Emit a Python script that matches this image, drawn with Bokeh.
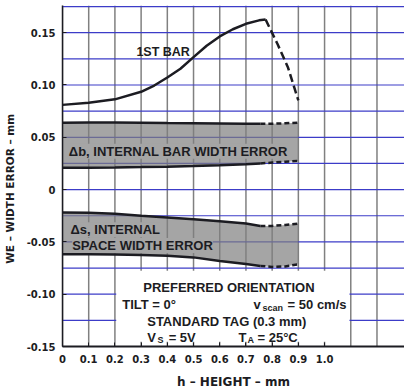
import numpy as np
from bokeh.plotting import figure
from bokeh.models import Range1d, FixedTicker, Label, BoxAnnotation, Span
from bokeh.embed import file_html
from bokeh.resources import INLINE

# ---------------- data ----------------
# "1ST BAR" curve: height (mm) vs width error (mm)
bar_h = [0.0, 0.1, 0.2, 0.3, 0.35, 0.4, 0.45, 0.5, 0.55, 0.6, 0.65, 0.7, 0.75, 0.775, 0.82, 0.86, 0.9]
bar_err = [0.081, 0.083, 0.0863, 0.0935, 0.0995, 0.1072, 0.1155, 0.1266, 0.1375, 0.1464, 0.1533,
           0.1585, 0.1618, 0.1626, 0.1394, 0.117, 0.0852]
bar_dash_from = 0.775

# internal bar width error band (delta b) and internal space width error band (delta s)
band_h = [0.0, 0.1, 0.2, 0.3, 0.4, 0.5, 0.6, 0.7, 0.755, 0.8, 0.85, 0.9]
db_upper = [0.064, 0.0642, 0.0641, 0.0639, 0.0636, 0.0634, 0.0632, 0.063, 0.063, 0.063, 0.0634, 0.064]
db_lower = [0.021, 0.021, 0.0212, 0.0215, 0.0219, 0.0225, 0.0233, 0.0243, 0.025, 0.0258, 0.0266, 0.0274]
ds_upper = [-0.022, -0.0222, -0.0232, -0.0251, -0.0267, -0.0283, -0.0303, -0.0325, -0.0347, -0.0347, -0.0338, -0.0325]
ds_lower = [-0.0618, -0.0619, -0.0621, -0.0625, -0.0632, -0.0648, -0.0682, -0.0712, -0.073, -0.0739, -0.0735, -0.0713]
band_dash_from = 0.755

# axes
x_ticks = [0, 0.1, 0.2, 0.3, 0.4, 0.5, 0.6, 0.7, 0.8, 0.9, 1.0]
x_tick_labels = ["0", "0.1", "0.2", "0.3", "0.4", "0.5", "0.6", "0.7", "0.8", "0.9", "1.0"]
x_extra_grid = [1.1, 1.2]
y_ticks = [-0.15, -0.1, -0.05, 0, 0.05, 0.1, 0.15]
y_tick_labels = ["-0.15", "-0.10", "-0.05", "0", "0.05", "0.10", "0.15"]
y_minor_grid = [-0.125, -0.075, -0.025, 0.025, 0.075, 0.125, 0.175]
x_title = "h \u2013 HEIGHT \u2013 mm"
y_title = "WE \u2013 WIDTH ERROR \u2013 mm" + "\u00a0" * 7

# ---------------- style ----------------
INK = "#1c1c22"
VGRID = "gray"
HGRID = "#3c3cc8"
BAND_FILL = "#7f7f7f"
TICK_FONT = "DejaVu Sans"
ANN_FONT = "Liberation Sans"
X0, X1 = 0.0, 1.305
Y0, Y1 = -0.15, 0.176

p = figure(width=404, height=392,
           x_range=Range1d(X0, X1), y_range=Range1d(Y0, Y1),
           output_backend="svg", toolbar_location=None,
           min_border_left=62, min_border_right=0, min_border_top=5, min_border_bottom=46)
p.outline_line_color = None
p.background_fill_color = "white"
p.border_fill_color = "white"
p.xgrid.visible = False
p.ygrid.visible = False

xt = FixedTicker(ticks=x_ticks, minor_ticks=x_extra_grid)
yt = FixedTicker(ticks=y_ticks, minor_ticks=y_minor_grid)
p.xaxis.ticker = xt
p.yaxis.ticker = yt
p.xaxis.major_label_overrides = {v: s for v, s in zip(x_ticks, x_tick_labels)}
p.yaxis.major_label_overrides = {v: s for v, s in zip(y_ticks, y_tick_labels)}

for ax in (p.xaxis, p.yaxis):
    ax.axis_line_color = INK
    ax.major_tick_line_color = INK
    ax.major_tick_in = 4
    ax.major_tick_out = 0
    ax.minor_tick_in = 0
    ax.minor_tick_out = 0
    ax.major_label_text_font = TICK_FONT
    ax.major_label_text_font_style = "bold"
    ax.major_label_text_font_size = "10px"
    ax.major_label_text_color = INK
    ax.axis_label_text_font = TICK_FONT
    ax.axis_label_text_font_style = "bold"
    ax.axis_label_text_color = INK

p.xaxis.axis_line_width = 2
p.yaxis.axis_line_width = 1.5
p.xaxis.major_label_standoff = 8
p.yaxis.major_label_standoff = 7
p.xaxis.axis_label = x_title
p.yaxis.axis_label = y_title
p.xaxis.axis_label_text_font_size = "12px"
p.yaxis.axis_label_text_font_size = "10.5px"
p.xaxis.axis_label_standoff = 9
p.yaxis.axis_label_standoff = 8

# ---------------- grid lines (underlay spans) ----------------
for v in x_ticks + x_extra_grid:
    p.add_layout(Span(location=v, dimension="height", line_color=VGRID, line_width=1.5, level="underlay"))
for v in y_ticks + y_minor_grid:
    p.add_layout(Span(location=v, dimension="width", line_color=HGRID, line_width=1.2, level="underlay"))

# ---------------- bands ----------------
bh = np.array(band_h)
solid = bh <= band_dash_from + 1e-9
dashed = bh >= band_dash_from - 1e-9

for up, lo in ((db_upper, db_lower), (ds_upper, ds_lower)):
    up = np.array(up)
    lo = np.array(lo)
    p.varea(x=bh, y1=lo, y2=up, fill_color=BAND_FILL, fill_alpha=0.7)
    for edge in (up, lo):
        p.line(bh[solid], edge[solid], line_color=INK, line_width=2.5)
        p.line(bh[dashed], edge[dashed], line_color=INK, line_width=2.5, line_dash="5 3")

# ---------------- 1st bar curve ----------------
ch = np.array(bar_h)
ce = np.array(bar_err)
cs = ch <= bar_dash_from + 1e-9
cd = ch >= bar_dash_from - 1e-9
p.line(ch[cs], ce[cs], line_color=INK, line_width=2.5)
p.line(ch[cd], ce[cd], line_color=INK, line_width=2.5, line_dash="8 4")

# white area behind the conditions text
p.add_layout(BoxAnnotation(left=0.205, right=1.095, bottom=-0.1455, top=-0.0775,
                           fill_color="white", fill_alpha=1.0, line_color=None))


def lab(x, y, text, size="13px", align="left", bg=None, font=ANN_FONT):
    kw = {}
    if bg is not None:
        kw = dict(background_fill_color=bg, background_fill_alpha=1.0)
    p.add_layout(Label(x=x, y=y, text=text, text_font=font, text_font_style="bold",
                       text_font_size=size, text_color=INK, text_align=align,
                       text_baseline="alphabetic", **kw))


BAND_TXT_BG = "#a5a5a5"
lab(0.282, 0.1314, "1ST BAR", size="12.5px")
lab(0.024, 0.0367, "\u0394b, INTERNAL BAR WIDTH ERROR", bg=BAND_TXT_BG)
lab(0.0305, -0.0384, "\u0394s, INTERNAL", bg=BAND_TXT_BG)
lab(0.037, -0.0534, "SPACE WIDTH ERROR", bg=BAND_TXT_BG)

lab(0.635, -0.0939, "PREFERRED ORIENTATION", align="center")
lab(0.2279, -0.1098, "TILT = 0\u00b0")
lab(0.729, -0.1098, "v")
lab(0.763, -0.1128, "scan", size="9px")
lab(0.859, -0.1098, "= 50 cm/s")
lab(0.3233, -0.1261, "STANDARD TAG (0.3 mm)")
lab(0.3233, -0.1411, "V")
lab(0.3626, -0.1438, "S", size="9px")
lab(0.405, -0.1411, "= 5V")
lab(0.6718, -0.1411, "T")
lab(0.706, -0.1438, "A", size="9px")
lab(0.744, -0.1411, "= 25\u00b0C")

open("out.html", "w").write(file_html(p, INLINE))
